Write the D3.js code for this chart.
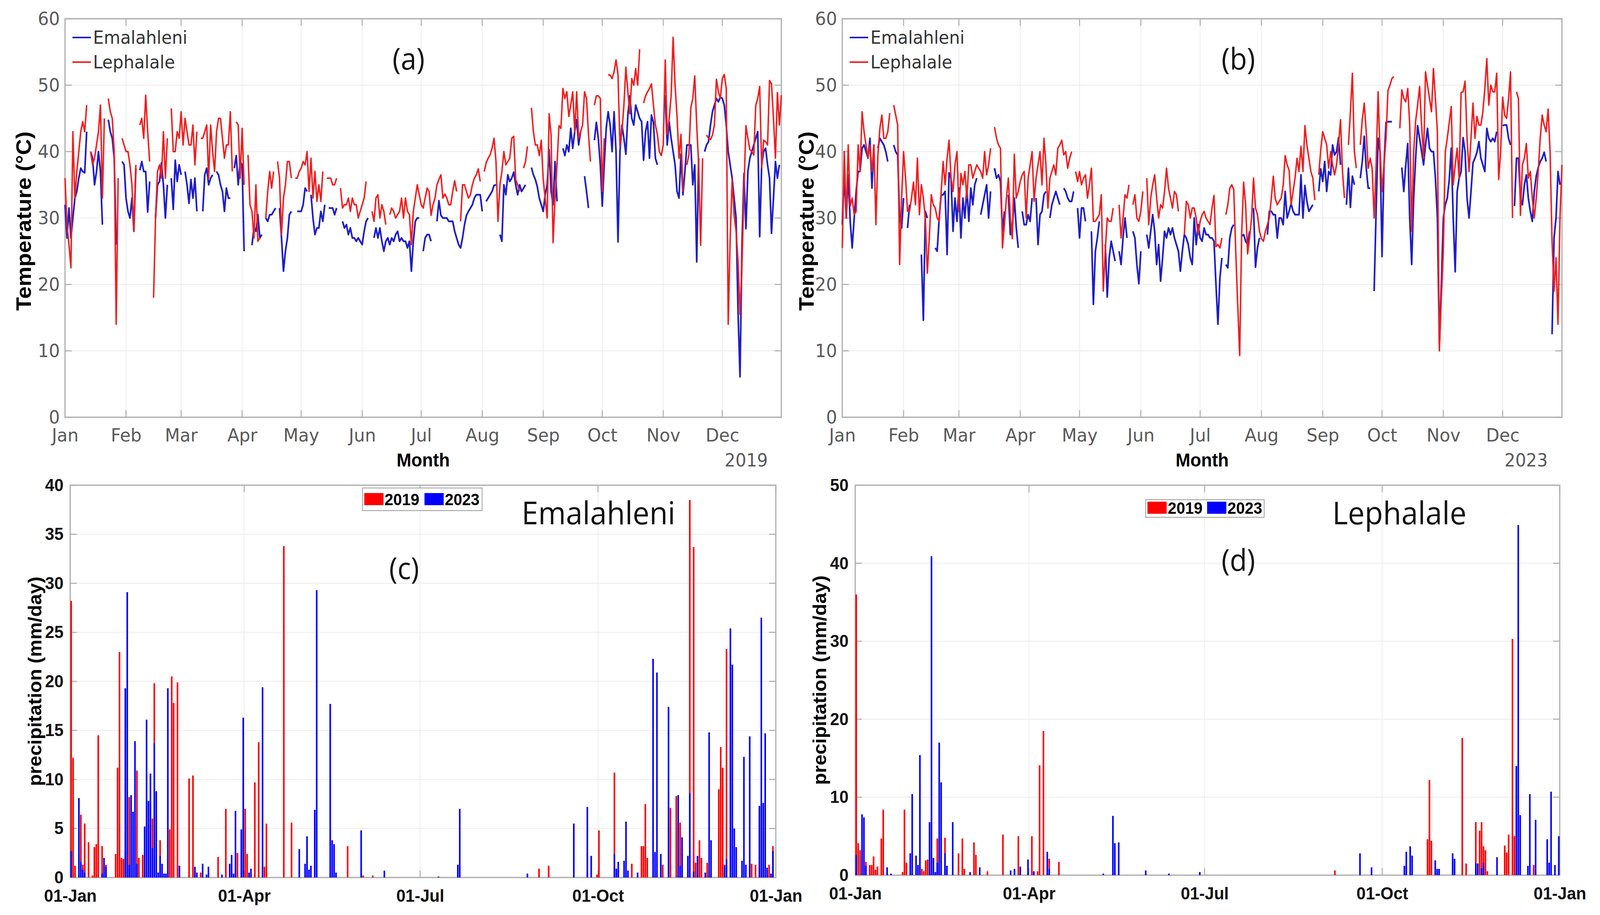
<!DOCTYPE html>
<html>
<head>
<meta charset="utf-8">
<script src="https://cdn.jsdelivr.net/npm/d3@7"></script>
<style>
  html, body { margin: 0; padding: 0; background: #fff; overflow: hidden; }
  #chart svg { display: block; width: 100vw; height: 100vh; }
</style>
</head>
<body>
<div id="chart"></div>
<script>

// ---- tick labels ----
var monthLabels = ["Jan","Feb","Mar","Apr","May","Jun","Jul","Aug","Sep","Oct","Nov","Dec"];
var quarterLabels = ["01-Jan","01-Apr","01-Jul","01-Oct","01-Jan"];
var seriesNames = ["Emalahleni","Lephalale"];
var yearNames = ["2019","2023"];

// ---- daily max temperature, one row per month (null = missing) ----
var emalahleniT2019 = [
  [32,27,31.5,27,30,33,34,36,37.5,37,36.8,43,null,40,39,35,37,40,37,29,null,null,44.8,43,42,39,26,null,null,38.5,38],
  [33,31,30,33,28,37.5,null,37.2,38.5,37,37,30.9,35.5,null,null,30,35,35.5,38.3,35,30,35,null,36,31.3,38.7,35.5,38],
  [36.5,null,37,35,32.2,35.8,33,36,31,null,null,31,36.5,37.5,35,36,36.5,null,37,36.5,35,34,31,34.5,33,33,null,37.5,39.4,35,38.5],
  [38,25,null,null,null,25.9,28.6,28,30.5,27,27.5,null,30,29.5,30.5,30.5,31,31.5,null,31.5,27,22,25,27,30.5,31,null,null,31,31],
  [31,32,34.5,34,null,33.5,30,27.5,28.5,28.5,31,29.5,32,null,31.5,31.5,31.5,30.5,31.5,null,null,29.5,28.5,29,27.5,28.5,27,27,26.5,27,26.5],
  [26,28,29.5,30,null,null,27,28.5,27,28.5,26.5,25,26.5,27,26,27,26.5,27.5,28,26.5,27,26.5,26.5,25.5,26.5,22,26.5,29.5,30,30],
  [null,25,27,27.5,27.5,26.5,null,null,29.5,32.6,30.4,30,30,30,29.5,29.5,29.5,28,27,26,25.5,27,29,30.4,31,31.5,32,33,33.5,33.5,33.5],
  [31,null,32.5,33,33.5,34,34.9,35,null,27.5,26.5,35,33.5,36.5,35.5,36,36.9,35,33.5,35,34,34.5,35,null,null,37.6,36.5,35.8,34.7,33,32],
  [31,33.5,35,40.3,34,32,38.5,32.5,null,null,40.5,39.4,41,40,43.5,40.5,43,44.8,41,43,null,36.3,34,31.5,null,null,41.7,44.4,42,38],
  [31.8,38,43.5,46,44,40,46,40,26.4,40,44,42,39.6,45.5,48.4,45,44,47,46,45,44.5,38.7,43,44.5,39,45.5,44.4,39,38,null,null],
  [null,48.5,41,44.5,42,40,38,34,33,39.6,33.5,37,41,41,41,35,38,23.4,39,null,null,40,41,41.5,44,46,47,48,47.5,48.2],
  [48,47,44,40,38,36,33,30,15.8,6.1,26,36.7,28.4,37,39,40,41,42,43,27.2,38,40,40.5,38,36,27.7,33,38.5,36,38,null]
];
var lephalaleT2019 = [
  [36,29,26,22.5,43,33,37,40,43,44.5,43,47,null,40,38,39,41,43,47,33,45,null,48,46,45,40,14,36,null,42,41],
  [40,40,38,35,28,38,null,44,45,42,48.5,43,38.5,null,18,30,37,38,36,43,36,42,null,46.5,40,40,43,42],
  [46,41,45,43,41,41,44,38,43,null,42,42,43,44,36,44,40,37,43,45,45,42,39,41,41,46,37,null,44.5,44,36],
  [43.5,35,null,39.5,32,31,27,35,26.5,27,null,null,30,34,37,34.5,37,null,38.5,36,27.5,33,35,38.5,38.5,36,null,36,36,37],
  [37.5,38.5,38,40,34,39,33,37,32.5,35,32.5,37,null,36,36,36,35,35,36,null,34.5,31.5,32,32,33,31,33,32,32,30,31],
  [32,33,35.5,null,null,31,29.5,33,33.5,30,32,31,29,null,30.5,31.5,31,30,30.5,31,33,30,33,31,30.5,26,31,33,35,33.5],
  [32,31.5,33,34.5,34,30.4,32,33,35,35.8,36.5,33,33.6,33,32,32,34,35.6,34,null,29.5,35,35,34,33,33.5,35,36,36.5,37.4,35.5],
  [null,37,38.3,39,39.5,40.5,42,38.5,29.5,35,37,40,38,38.5,39,42,42.3,35.8,35,34,null,37.5,38.5,40.8,null,46.6,43,41,41,39.4,41.7],
  [35.8,33,30,45.7,42.5,26.3,33,38,43.9,43.5,49.5,48,49,45.3,47,49,43,49,42,43,44,49,48,42.6,38.5,null,47,48.4,48.4,48],
  [34,42,null,51.6,51.5,51,52,53.8,51.6,40.8,43,47,52.7,49,45.7,51,50,52.5,50,55.4,null,47.3,48.4,49,49.5,50.2,47,44,42.6,40,39.4],
  [41,53.8,42.6,45,48.4,57.2,50,45.3,39,42.6,34,null,38,39.5,46.6,48,51.4,43.9,38,25.9,39,null,42.5,42,41.8,42.5,44,50.9,49,48],
  [51,51.6,49.5,14,27,35.8,30.4,28,23.4,15.5,23,34,43.9,42,40.3,40,39.5,47,48,49.8,37.6,41.7,41.5,41,50.7,50.2,45,39,48.9,44,48.5]
];
var emalahleniT2023 = [
  [29,36.5,30,36.5,29.5,25.5,30,34,37,37,40.5,41,40,39,42,34.5,41,null,40.5,42,41.5,41,40,38.5,null,null,41,40,39.5,30,28.5],
  [33,null,28.5,32,null,null,null,null,null,24.5,14.6,31,30,null,null,null,25.5,25,30,33.5,33.5,34,24.5,36.8,36,28,33,29.5],
  [34.5,27,33,30,34.5,29.5,34.5,32,35,36,null,30.5,32,33.5,35,30,34,null,37.5,36,36.5,35.5,28,31,null,33.5,27.5,28.5,33,28.5,25.5],
  [null,31,29,29,30.5,29.5,33,null,33,26,30.5,31,33.5,34,null,30,32,33,34,33,32,null,34.5,34,33,32.5,32.5,34,null,31.5],
  [27,31.5,31.5,29.5,null,null,28,17,25,27,29.5,null,null,26,18.1,24,26.5,25,23.5,null,25,23,27,30,27,null,null,28,27,23,20.1],
  [25,null,null,27.5,25.5,28,30.5,28,23,26,20.5,24,28,27,28.5,27.5,28.5,27,26,25,22,25,27.5,27,26,24,23,30,26,29],
  [27,26.5,28.5,27.5,27.5,27,27,26.5,20,14,21,24,null,23,22.5,27,28.5,29,null,null,null,27.3,27.5,26.5,26,28,null,31.5,22.6,25.5,27],
  [null,null,null,27.5,31,31,30.5,30.5,27,30,30,29,34,30,31,32.2,31,30.5,30.5,30.5,36.5,30,34.9,32.5,31,31.5,32,null,null,34,37.4],
  [35.5,38.5,34,37,36.5,41,39.5,40,42.1,38,null,null,32,37.5,31.6,36.3,35,null,null,36,38.5,42.3,37.5,34.5,34.5,null,19,31,42,40],
  [24.2,38,44.4,44.5,44.5,44.5,null,null,null,null,37.6,34,38,41.2,30,23,33,39,43.9,42,40,38,41,43.5,40.5,40,40,36,30,11.1,20],
  [30,32,33,35.8,40.5,30,21.9,34,36,37,42.1,40,33,30,34,38.3,39,39.9,41.5,39,38,37,43.5,42,41.5,42,41.5,43,null,null],
  [43.9,44,44,42,41,null,31.8,39,39,33,32,35,36.5,33,31,29.5,34,36.3,37.6,38.5,39,39.9,38.5,null,null,12.5,27,30,37,35,null]
];
var lephalaleT2023 = [
  [25.5,40,30,41,31.8,33,30.5,31,41,37,46,43,41,39,41,37,41,29,39.4,43.5,45.5,42,42,43,45.8,null,47,45.5,44,23,33],
  [40,36,31,31,33,35.4,32,39,30.5,35,33,30,21.7,27,33.5,32,31.5,30,29.5,34,38.5,35,39,41.7,36,34,38,40],
  [31,36.7,35,37,33,38,38,36,37,38,37.5,37,36,40,36.5,38,40.5,null,43.7,42,41,40.5,25.5,29,33,36,30,26.9,39.6,33,34],
  [35.5,36.5,37,30,36,38,40,32.5,36,38,40,35,42,38,31.5,36,37,38,36.5,40.5,41,41.7,39.5,40,37.5,39,40,null,37,35.5],
  [37,35,36,36.5,33,35,37.5,29.5,29.5,30,30.5,33.5,19,25,30,29.5,29.5,31.5,null,null,32,27,30,33.5,33,35,null,32,33.5,30,29.5],
  [31,34,null,36,29,33,35,36.5,33,30,32,31.5,34,37.5,34.5,33,31.5,34,33.5,31,null,null,27.5,32.5,32,30,31.5,31.5,30,27.5],
  [29.5,30.5,31,30,29.5,29,31.5,33.4,25.7,26,25.5,27,null,30.5,32,34.5,35,34.3,25,17,9.3,27.7,35.4,32,24.6,27,30,36,31.5,30.5,28],
  [26.9,26.5,28,29,30,33,36.3,32.9,32,32.5,33,34.9,39.4,38,37.2,32,34,36,39,37,40.8,37,43.9,41,39,37,36,32.7,null,36.5,40.3],
  [43,42,41,37.5,40,38,36.5,38,41,44.8,37,33,null,41,46,51.8,40,37.5,null,41,44.8,47.3,43,37.5,39,37.5,30,38,49,40],
  [34,38,42,49.2,50,51,51.3,null,null,43.5,49.3,48,47.5,49.5,44,28,40,44.6,47,49.8,44,39,52,50,48,46,52.5,48,43,10,18],
  [25,40,42,44.4,46.8,35,38,40.5,36,48.9,49,50.6,42,37,42,47.3,42,45.3,44,44,46,49.5,54,47,50,49,49,51.8,35.8,40],
  [48.2,45.5,45,48,52,30,null,49,48,30.4,38,39,41.2,36,37,33,30,33,37,42,45.5,44,43,46.4,40,26.4,19,24,14,30,38]
];

// ---- daily precipitation [day of year (0 = 01-Jan), mm/day], dry days left out ----
var emalahleniP2019 = [[0,28.2],[1,12.2],[2,1.2],[5,6.4],[6,1.3],[7,5.5],[9,3.6],[11,0.2],[12,3.1],[13,3.4],[14,14.5],[16,3.2],[18,1.3],
  [23,2.4],[24,11.2],[25,23.0],[26,2.0],[27,1.9],[28,2.6],[30,8.2],[34,10.9],[35,2.0],[37,2.3],[42,6.0],[43,19.8],[46,3.8],[51,4.9],
  [52,20.5],[53,17.8],[55,19.9],[61,10.1],[63,10.4],[67,0.5],[76,2.1],[80,7.0],[86,2.5],[90,7.0],[91,2.4],[95,9.7],[97,13.8],[100,1.1],
  [101,5.5],[110,33.8],[114,5.6],[143,3.2],[151,0.2],[156,0.2],[242,0.9],[247,1.2],[267,0.5],[272,0.3],[273,4.8],[281,10.7],[283,0.8],
  [290,1.4],[295,3.2],[296,3.2],[297,7.5],[298,2.0],[306,1.3],[310,7.1],[313,8.3],[315,5.6],[316,2.4],[320,38.5],[322,33.7],[323,1.5],
  [325,3.8],[326,2.0],[329,1.5],[335,9.0],[336,13.3],[337,11.2],[338,1.3],[339,23.3],[352,1.4],[354,1.3],[361,1.3],[363,3.2]];
var emalahleniP2023 = [[0,2.7],[4,8.1],[5,1.6],[6,0.8],[7,0.5],[16,0.4],[17,2.0],[18,1.1],[28,19.3],[29,29.1],[30,1.3],[31,8.4],[32,6.7],
  [33,13.9],[34,1.4],[38,5.2],[39,16.1],[40,7.8],[41,10.6],[42,3.0],[43,13.7],[44,8.8],[45,0.5],[46,2.2],[47,1.4],[48,0.4],[49,0.4],
  [50,19.3],[56,1.2],[64,1.1],[65,0.5],[68,1.4],[70,0.3],[71,1.1],[78,0.3],[82,1.4],[83,2.3],[84,0.4],[85,6.8],[88,4.9],[89,16.3],
  [92,0.5],[93,0.9],[99,19.4],[118,2.9],[121,1.4],[122,4.2],[123,0.8],[124,1.2],[126,6.9],[127,29.3],[134,17.7],[135,3.8],[136,3.4],
  [137,0.5],[150,4.8],[162,0.7],[190,0.1],[200,1.3],[201,7.0],[236,0.4],[260,5.5],[267,7.2],[269,2.2],[281,2.4],[282,0.9],[283,1.6],
  [286,1.7],[287,5.7],[288,0.7],[293,0.5],[301,22.3],[302,2.6],[303,20.9],[305,2.4],[309,17.4],[314,8.4],[315,1.2],[316,4.1],[319,2.2],
  [320,8.6],[322,0.6],[324,2.2],[328,0.5],[330,14.8],[331,3.8],[338,1.2],[339,1.9],[341,25.4],[342,21.7],[343,5.0],[344,3.1],[347,1.7],
  [348,12.3],[349,1.3],[351,14.4],[356,7.3],[357,26.5],[358,7.6],[359,14.7],[360,1.0],[362,0.4],[363,2.7]];
var lephalaleP2019 = [[0,36.0],[1,4.1],[2,3.2],[5,1.7],[7,1.3],[8,1.3],[9,2.4],[10,0.7],[11,1.1],[13,4.7],[14,8.4],[24,0.4],[25,8.4],
  [26,1.6],[34,0.8],[35,0.5],[36,1.9],[37,2.0],[42,4.7],[46,4.8],[53,2.8],[55,4.7],[56,0.8],[61,4.2],[62,2.6],[68,0.5],[76,5.2],[84,5.0],
  [91,5.0],[94,0.5],[95,14.1],[97,18.5],[100,2.1],[105,1.7],[248,0.6],[296,4.6],[297,12.2],[298,4.4],[301,0.2],[314,17.6],[316,1.5],
  [321,6.8],[323,5.7],[324,6.8],[325,3.7],[326,3.2],[327,0.5],[336,3.8],[337,2.9],[338,5.2],[340,30.3],[341,5.0],[351,1.3]];
var lephalaleP2023 = [[0,2.6],[3,7.8],[4,7.4],[5,1.2],[16,1.0],[18,0.2],[28,2.8],[29,10.4],[31,2.5],[32,1.3],[33,15.4],[38,6.8],[39,40.9],
  [40,2.2],[41,0.4],[42,1.6],[43,17.0],[44,11.9],[46,2.8],[47,1.2],[50,6.8],[59,0.4],[64,1.0],[80,0.6],[82,0.8],[85,1.1],[89,2.0],
  [92,0.5],[99,3.0],[100,0.8],[128,0.2],[133,7.6],[134,4.1],[136,4.2],[150,0.6],[162,0.2],[178,0.4],[261,2.8],[267,1.0],[284,1.2],
  [285,3.0],[287,3.7],[288,2.5],[300,1.9],[301,0.8],[302,0.8],[309,2.8],[310,2.1],[321,1.5],[322,1.5],[324,0.9],[325,1.6],[332,2.3],
  [342,14.0],[343,44.9],[344,7.7],[348,1.2],[349,10.4],[352,7.1],[358,4.6],[359,1.6],[360,10.7],[362,1.3],[364,5.0]];


var BLUE_LINE = "#1e1ec8", RED_LINE = "#f01e1e";
var BLUE_BAR = "#0000ff", RED_BAR = "#ff0000";
var GRID = "#ebebeb", FRAME = "#b3b3b3";
var TICK_FONT = "'DejaVu Sans', sans-serif";
var BOLD_FONT = "'Liberation Sans', Arial, sans-serif";
var TITLE_FONT = "'Open Sans', sans-serif";

// fixed drawing space, stretched over the whole viewport
var svg = d3.select("#chart").append("svg")
    .attr("viewBox", "0 0 4331 2342")
    .attr("preserveAspectRatio", "none");

svg.append("rect").attr("width", 4331).attr("height", 2342).attr("fill", "#fff");


/*
 * Box with inward ticks on all four sides and light grid (MATLAB style)
 */
function drawFrame(g, x, y, xTicks, yTicks, left, right, top, bottom) {
    g.append("g").selectAll("line")
        .data(xTicks).enter().append("line")
        .attr("x1", function(d){ return x(d); }).attr("x2", function(d){ return x(d); })
        .attr("y1", top).attr("y2", bottom)
        .attr("stroke", GRID).attr("stroke-width", 2);
    g.append("g").selectAll("line")
        .data(yTicks).enter().append("line")
        .attr("x1", left).attr("x2", right)
        .attr("y1", function(d){ return y(d); }).attr("y2", function(d){ return y(d); })
        .attr("stroke", GRID).attr("stroke-width", 2);

    var t = 18;
    var ticks = g.append("g").attr("stroke", FRAME).attr("stroke-width", 3);
    xTicks.forEach(function(d) {
        ticks.append("line").attr("x1", x(d)).attr("x2", x(d)).attr("y1", bottom).attr("y2", bottom - t);
        ticks.append("line").attr("x1", x(d)).attr("x2", x(d)).attr("y1", top).attr("y2", top + t);
    });
    yTicks.forEach(function(d) {
        ticks.append("line").attr("x1", left).attr("x2", left + t).attr("y1", y(d)).attr("y2", y(d));
        ticks.append("line").attr("x1", right).attr("x2", right - t).attr("y1", y(d)).attr("y2", y(d));
    });

    g.append("rect")
        .attr("x", left).attr("y", top)
        .attr("width", right - left).attr("height", bottom - top)
        .attr("fill", "none").attr("stroke", FRAME).attr("stroke-width", 3.5);
}


/*
 * Temperature panel: two daily lines over one calendar year
 */
function drawTempPanel(p) {
    var g = svg.append("g");
    var start = new Date(Date.UTC(p.year, 0, 1)),
        end = new Date(Date.UTC(p.year, 11, 31));

    var x = d3.scaleUtc().domain([start, end]).range([p.left, p.right]);
    var y = d3.scaleLinear().domain([0, 60]).range([p.bottom, p.top]);

    var monthDates = d3.utcMonth.range(start, end);
    var yTicks = d3.range(0, 61, 10);

    drawFrame(g, x, y, monthDates, yTicks, p.left, p.right, p.top, p.bottom);

    // tick labels through d3 axes, lines hidden (frame draws them)
    var xAxis = d3.axisBottom(x).tickValues(monthDates)
        .tickFormat(function(d, i){ return monthLabels[i]; })
        .tickSize(0).tickPadding(29);
    var gx = g.append("g").attr("transform", "translate(0," + p.bottom + ")").call(xAxis);
    var yAxis = d3.axisLeft(y).tickValues(yTicks).tickSize(0).tickPadding(14);
    var gy = g.append("g").attr("transform", "translate(" + p.left + ",0)").call(yAxis);
    [gx, gy].forEach(function(a) {
        a.select(".domain").remove();
        a.selectAll("text").attr("font-family", TICK_FONT).attr("font-size", 47).attr("fill", "#595959");
    });

    var line = d3.line()
        .defined(function(d){ return d != null; })
        .x(function(d, i){ return x(new Date(Date.UTC(p.year, 0, 1 + i))); })
        .y(function(d){ return y(d); });

    g.append("path").datum(p.blue.flat())
        .attr("d", line).attr("fill", "none")
        .attr("stroke", BLUE_LINE).attr("stroke-width", 4.5).attr("stroke-linejoin", "round");
    g.append("path").datum(p.red.flat())
        .attr("d", line).attr("fill", "none")
        .attr("stroke", RED_LINE).attr("stroke-width", 4).attr("stroke-linejoin", "round");

    // legend
    [BLUE_LINE, RED_LINE].forEach(function(c, i) {
        var ly = p.legendY + i * 63;
        g.append("line").attr("x1", p.legendX).attr("x2", p.legendX + 50)
            .attr("y1", ly).attr("y2", ly).attr("stroke", c).attr("stroke-width", 4);
        g.append("text").attr("x", p.legendX + 56).attr("y", ly + 16)
            .attr("font-family", TICK_FONT).attr("font-size", 46).attr("fill", "#333")
            .text(seriesNames[i]);
    });

    g.append("text").attr("x", p.tagX).attr("y", 178).attr("text-anchor", "middle")
        .attr("font-family", TITLE_FONT).attr("font-size", 76).attr("fill", "#111").text(p.tag);

    g.append("text").attr("x", (p.left + p.right) / 2).attr("y", 1194).attr("text-anchor", "middle")
        .attr("font-family", BOLD_FONT).attr("font-weight", "bold").attr("font-size", 48).text("Month");
    g.append("text").attr("x", p.yearX).attr("y", 1194).attr("text-anchor", "middle")
        .attr("font-family", TICK_FONT).attr("font-size", 46).attr("fill", "#595959").text(String(p.year));

    g.append("text")
        .attr("transform", "translate(" + p.ylabelX + "," + ((p.top + p.bottom) / 2 + 8) + ") rotate(-90)")
        .attr("text-anchor", "middle")
        .attr("font-family", BOLD_FONT).attr("font-weight", "bold").attr("font-size", 57)
        .text("Temperature (\u00B0C)");
}


/*
 * Precipitation panel: daily bars of both years on a common Jan-Jan axis
 */
function drawPrecipPanel(p) {
    var g = svg.append("g");
    var start = new Date(Date.UTC(2019, 0, 1)),
        end = new Date(Date.UTC(2020, 0, 1));
    var dayDate = function(k){ return new Date(Date.UTC(2019, 0, 1 + k)); };

    var x = d3.scaleUtc().domain([start, end]).range([p.left, p.right]);
    var y = d3.scaleLinear().domain([0, p.yMax]).range([p.bottom, p.top]);

    var qDates = [0, 3, 6, 9, 12].map(function(m){ return new Date(Date.UTC(2019, m, 1)); });
    var yTicks = d3.range(0, p.yMax + 0.1, p.yStep);

    drawFrame(g, x, y, qDates, yTicks, p.left, p.right, p.top, p.bottom);

    var xAxis = d3.axisBottom(x).tickValues(qDates)
        .tickFormat(function(d, i){ return quarterLabels[i]; })
        .tickSize(0).tickPadding(30);
    var gx = g.append("g").attr("transform", "translate(0," + p.bottom + ")").call(xAxis);
    var yAxis = d3.axisLeft(y).tickValues(yTicks).tickSize(0).tickPadding(18);
    var gy = g.append("g").attr("transform", "translate(" + p.left + ",0)").call(yAxis);
    [gx, gy].forEach(function(a) {
        a.select(".domain").remove();
        a.selectAll("text").attr("font-family", BOLD_FONT).attr("font-weight", "bold")
            .attr("font-size", 45).attr("fill", "#111");
    });

    var dayW = x(dayDate(1)) - x(dayDate(0));
    [[p.red, RED_BAR], [p.blue, BLUE_BAR]].forEach(function(s) {
        g.append("g").selectAll("rect")
            .data(s[0]).enter().append("rect")
            .attr("x", function(d){ return x(dayDate(d[0])) + dayW * 0.1; })
            .attr("width", dayW * 0.82)
            .attr("y", function(d){ return y(d[1]); })
            .attr("height", function(d){ return Math.max(0.5, y(0) - y(d[1])); })
            .attr("fill", s[1]);
    });

    // legend box
    var lg = g.append("g").attr("transform", "translate(" + p.legX + "," + p.legY + ")");
    lg.append("rect").attr("width", p.legW).attr("height", p.legH)
        .attr("fill", "#fff").attr("stroke", "#9a9a9a").attr("stroke-width", 2);
    [[RED_BAR, 5], [BLUE_BAR, p.legW / 2 + 6]].forEach(function(s, i) {
        lg.append("rect").attr("x", s[1]).attr("y", p.legRectY).attr("width", 52).attr("height", 31).attr("fill", s[0]);
        lg.append("text").attr("x", s[1] + 55).attr("y", p.legRectY + 31)
            .attr("font-family", BOLD_FONT).attr("font-weight", "bold").attr("font-size", 42)
            .attr("textLength", 94).attr("lengthAdjust", "spacingAndGlyphs")
            .text(yearNames[i]);
    });

    g.append("text").attr("x", p.nameX).attr("y", 1342).attr("text-anchor", "middle")
        .attr("font-family", TITLE_FONT).attr("font-size", 81).attr("fill", "#111").text(p.name);
    g.append("text").attr("x", p.tagX).attr("y", p.tagY).attr("text-anchor", "middle")
        .attr("font-family", TITLE_FONT).attr("font-size", 76).attr("fill", "#111").text(p.tag);

    g.append("text")
        .attr("transform", "translate(" + p.ylabelX + "," + ((p.top + p.bottom) / 2) + ") rotate(-90)")
        .attr("text-anchor", "middle")
        .attr("font-family", BOLD_FONT).attr("font-weight", "bold").attr("font-size", 50)
        .text("precipitation (mm/day)");
}


drawTempPanel({ year: 2019, left: 176, right: 2115, top: 48, bottom: 1068,
    blue: emalahleniT2019, red: lephalaleT2019, tag: "(a)", tagX: 1106,
    legendX: 196, legendY: 96, yearX: 2020, ylabelX: 84 });

drawTempPanel({ year: 2023, left: 2280, right: 4228, top: 48, bottom: 1068,
    blue: emalahleniT2023, red: lephalaleT2023, tag: "(b)", tagX: 3352,
    legendX: 2300, legendY: 96, yearX: 4131, ylabelX: 2202 });

drawPrecipPanel({ left: 190, right: 2100, top: 1242, bottom: 2246, yMax: 40, yStep: 5,
    red: emalahleniP2019, blue: emalahleniP2023, name: "Emalahleni", nameX: 1620,
    tag: "(c)", tagX: 1094, tagY: 1482, ylabelX: 112,
    legX: 981, legY: 1249, legW: 324, legH: 58, legRectY: 13 });

drawPrecipPanel({ left: 2315, right: 4222, top: 1242, bottom: 2240, yMax: 50, yStep: 10,
    red: lephalaleP2019, blue: lephalaleP2023, name: "Lephalale", nameX: 3788,
    tag: "(d)", tagX: 3352, tagY: 1461, ylabelX: 2236,
    legX: 3101, legY: 1279, legW: 321, legH: 45, legRectY: 5 });

</script>
</body>
</html>
